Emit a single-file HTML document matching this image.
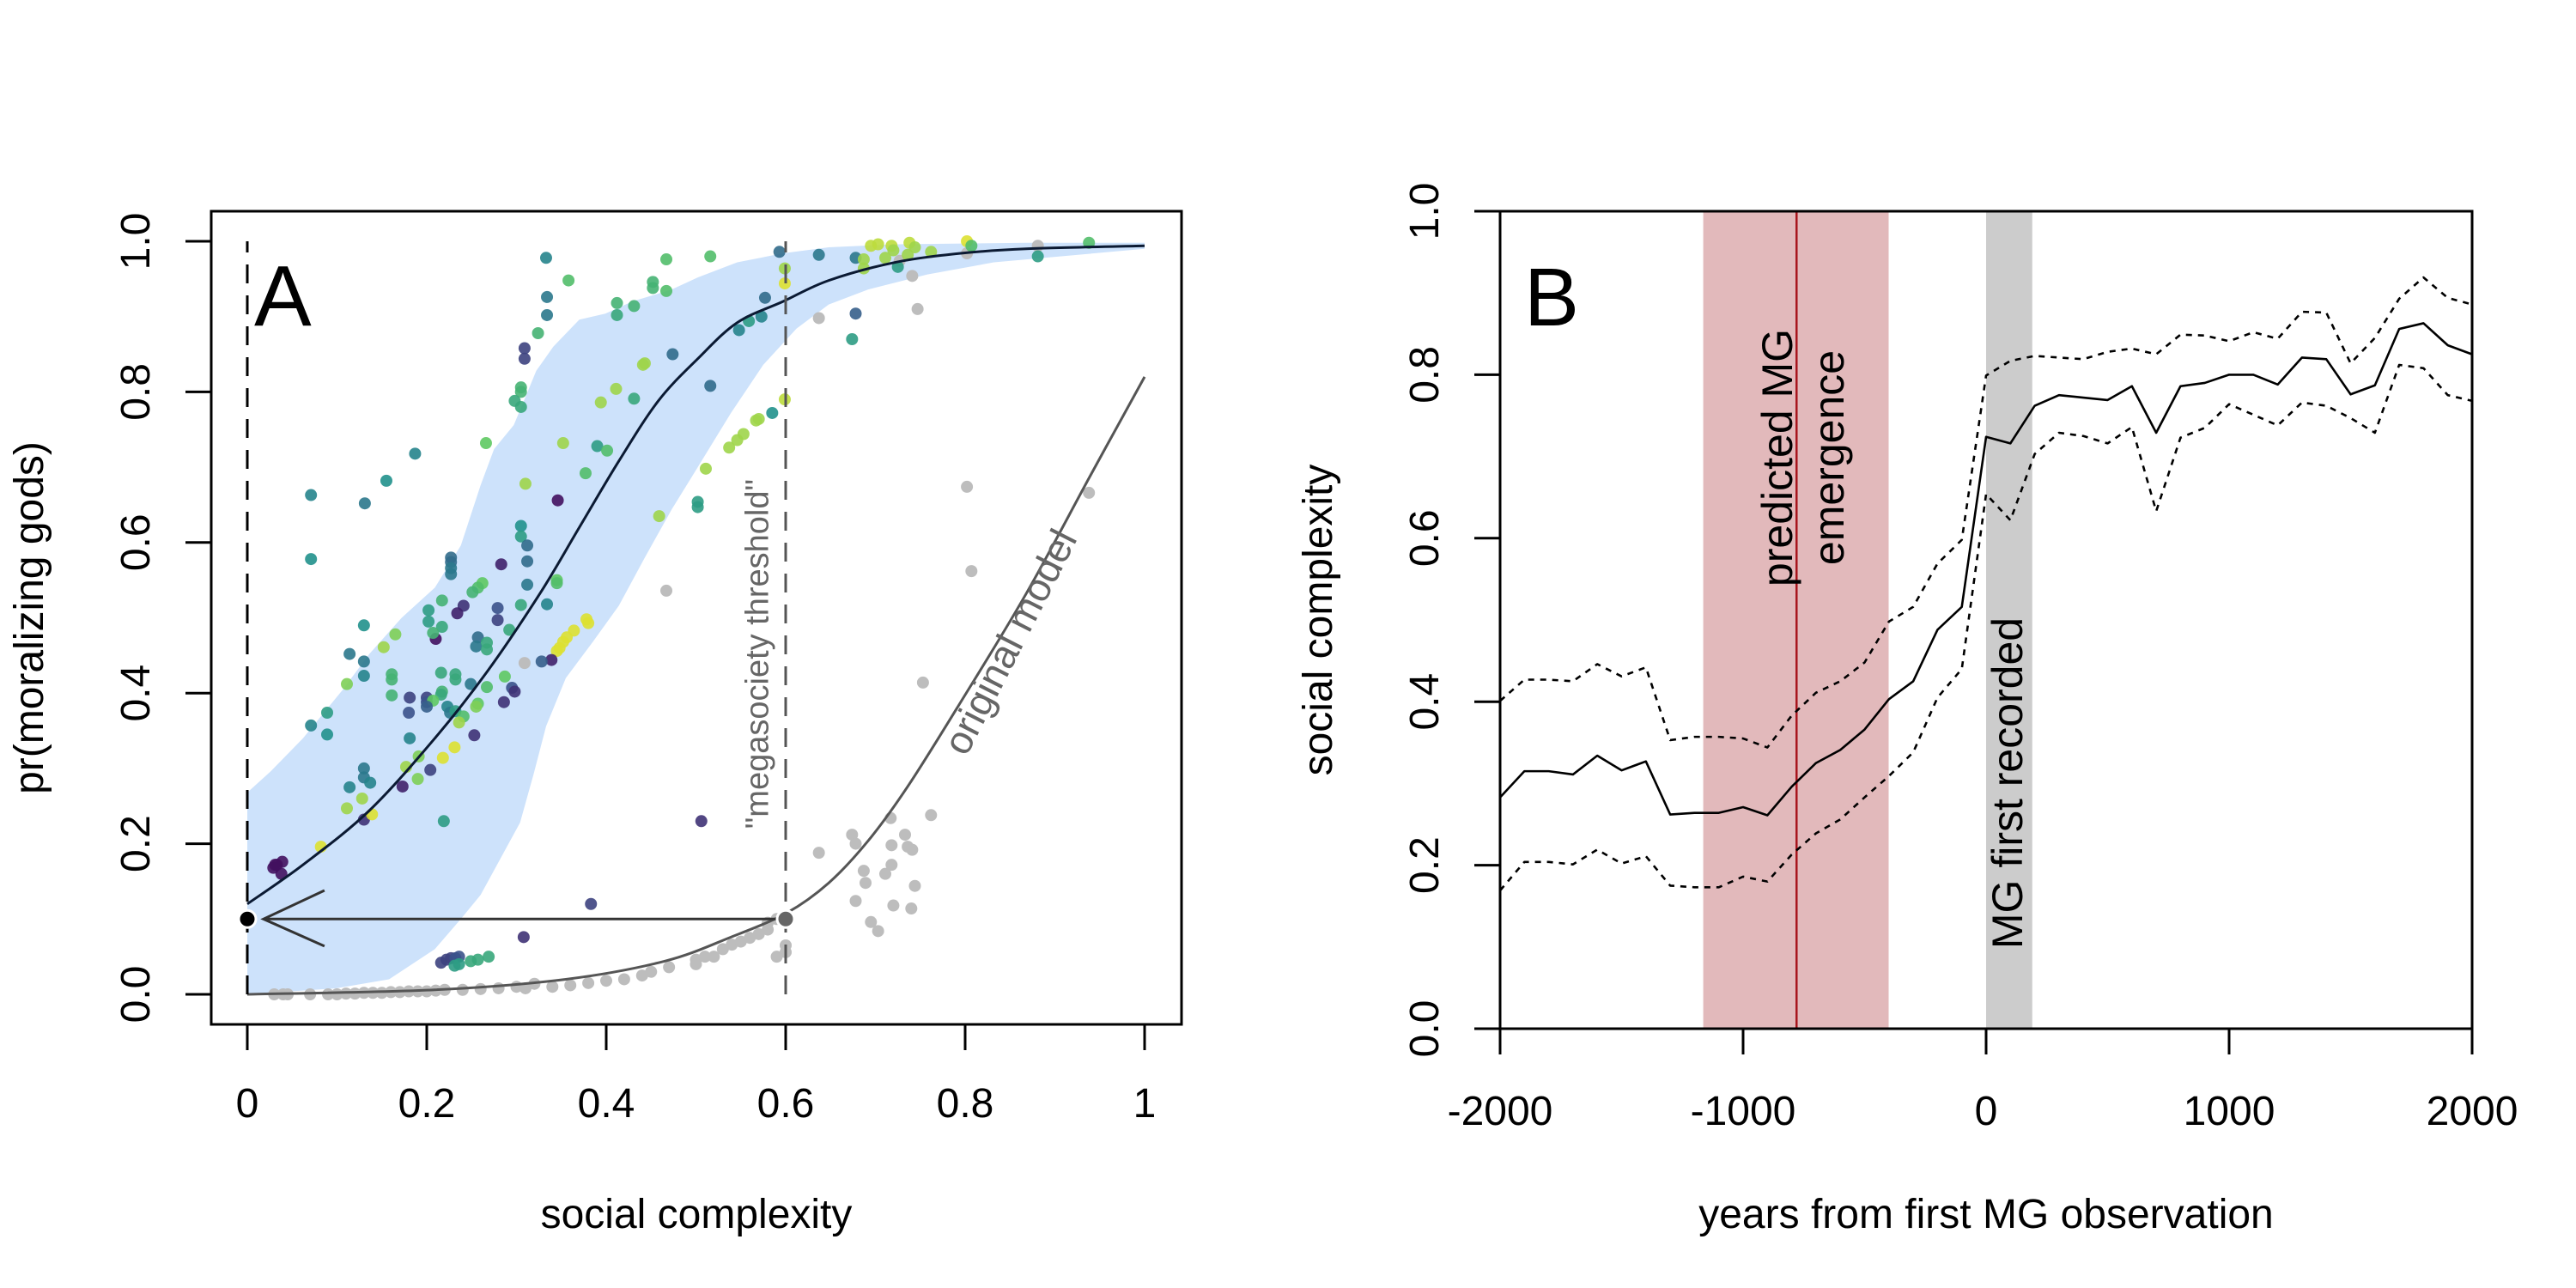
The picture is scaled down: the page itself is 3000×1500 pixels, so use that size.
<!DOCTYPE html>
<html><head><meta charset="utf-8"><style>
html,body{margin:0;padding:0;background:#fff;}
svg{display:block;font-family:"Liberation Sans",Arial,sans-serif;}
</style></head><body>
<svg id="chart" width="3000" height="1500" viewBox="0 0 3000 1500" xmlns="http://www.w3.org/2000/svg">
<rect width="3000" height="1500" fill="#fff"/>
<g id="pa"></g>
<g id="pb"></g>
</svg>
<script>
// ---------- Panel A data ----------
const aXTicks=[0,0.2,0.4,0.6,0.8,1];
const aXTickLabels=["0","0.2","0.4","0.6","0.8","1"];
const aYTicks=[0,0.2,0.4,0.6,0.8,1];
const aYTickLabels=["0.0","0.2","0.4","0.6","0.8","1.0"];
const bandUpperX=[0,0.026,0.062,0.106,0.136,0.172,0.209,0.238,0.26,0.275,0.297,0.311,0.322,0.341,0.37,0.399,0.429,0.473,0.502,0.546,0.597,0.648,0.722,0.868,1];
const bandUpperY=[0.268,0.296,0.34,0.404,0.452,0.5,0.54,0.596,0.676,0.724,0.756,0.796,0.828,0.86,0.896,0.904,0.92,0.936,0.952,0.972,0.984,0.992,0.996,0.998,0.998];
const bandLowerX=[0,0.099,0.158,0.209,0.238,0.26,0.282,0.304,0.319,0.333,0.355,0.385,0.414,0.443,0.473,0.502,0.539,0.575,0.612,0.648,0.692,0.758,0.832,1];
const bandLowerY=[0,0.008,0.02,0.06,0.1,0.132,0.18,0.228,0.292,0.356,0.42,0.468,0.516,0.58,0.644,0.7,0.772,0.836,0.884,0.916,0.936,0.956,0.972,0.99];
const fitX=[0,0.062,0.136,0.209,0.267,0.326,0.37,0.414,0.458,0.502,0.546,0.597,0.648,0.722,0.795,0.868,1];
const fitY=[0.12,0.172,0.244,0.34,0.428,0.532,0.62,0.708,0.788,0.844,0.892,0.92,0.948,0.972,0.984,0.99,0.994];
const origX=[0,0.209,0.355,0.465,0.539,0.601,0.648,0.692,0.736,0.795,0.868,0.941,1];
const origY=[0,0.006,0.02,0.044,0.076,0.108,0.148,0.204,0.276,0.388,0.532,0.692,0.82];
// coloured points: [x, y, viridis value]
const colPts=[[0.333,0.978,.45],[0.358,0.948,.7],[0.334,0.926,.4],[0.334,0.902,.4],[0.324,0.878,.65],[0.309,0.858,.2],[0.309,0.844,.2],[0.305,0.806,.65],[0.305,0.8,.65],[0.298,0.788,.6],[0.305,0.78,.6],[0.266,0.732,.75],[0.187,0.718,.45],[0.155,0.682,.5],[0.071,0.663,.45],[0.131,0.652,.4],[0.071,0.578,.5],
[0.467,0.976,.7],[0.516,0.98,.7],[0.593,0.986,.35],[0.599,0.964,.85],[0.599,0.944,.95],[0.637,0.982,.4],[0.452,0.946,.65],[0.452,0.938,.65],[0.467,0.934,.7],[0.412,0.918,.65],[0.412,0.902,.6],[0.431,0.914,.65],[0.577,0.925,.35],[0.573,0.9,.45],[0.559,0.894,.55],[0.548,0.882,.45],[0.474,0.85,.35],[0.443,0.838,.85],[0.441,0.836,.85],[0.516,0.808,.35],[0.411,0.804,.85],[0.394,0.786,.85],[0.431,0.791,.6],[0.352,0.732,.85],[0.39,0.728,.55],[0.401,0.722,.7],[0.31,0.678,.85],[0.377,0.692,.7],[0.346,0.656,.05],
[0.585,0.772,.5],[0.599,0.79,.9],[0.57,0.764,.85],[0.567,0.762,.85],[0.553,0.744,.85],[0.546,0.736,.85],[0.537,0.726,.85],[0.511,0.698,.85],[0.502,0.654,.55],[0.502,0.647,.55],[0.459,0.635,.85],
[0.678,0.978,.4],[0.687,0.976,.85],[0.687,0.964,.85],[0.695,0.994,.9],[0.703,0.996,.9],[0.718,0.994,.9],[0.72,0.988,.85],[0.738,0.998,.9],[0.744,0.992,.85],[0.762,0.986,.85],[0.711,0.978,.85],[0.725,0.966,.55],[0.736,0.982,.85],[0.802,1.0,.95],[0.807,0.994,.7],[0.938,0.998,.7],[0.881,0.98,.55],[0.678,0.904,.3],[0.674,0.87,.55],
[0.305,0.622,.5],[0.305,0.608,.55],[0.312,0.596,.35],[0.227,0.58,.35],[0.227,0.574,.35],[0.227,0.566,.4],[0.227,0.558,.4],[0.283,0.571,.1],[0.312,0.575,.35],[0.345,0.55,.75],[0.345,0.546,.7],[0.312,0.544,.4],[0.262,0.546,.75],[0.257,0.54,.7],[0.251,0.534,.65],[0.334,0.518,.45],[0.305,0.517,.6],[0.241,0.516,.15],[0.217,0.523,.65],[0.234,0.506,.1],[0.279,0.513,.25],[0.202,0.51,.55],[0.202,0.495,.55],[0.279,0.497,.2],
[0.378,0.498,.95],[0.38,0.493,.95],[0.364,0.483,.95],[0.356,0.474,.95],[0.352,0.468,.95],[0.348,0.46,.95],[0.345,0.456,.95],[0.339,0.444,.1],[0.328,0.442,.3],[0.292,0.484,.6],[0.257,0.474,.35],[0.255,0.462,.4],[0.267,0.467,.6],[0.267,0.458,.6],[0.217,0.488,.6],[0.21,0.472,.05],[0.207,0.48,.65],[0.165,0.478,.8],[0.152,0.461,.85],[0.13,0.49,.5],[0.114,0.452,.4],[0.13,0.442,.4],[0.13,0.423,.45],[0.111,0.412,.8],[0.161,0.425,.65],[0.161,0.418,.65],
[0.216,0.427,.6],[0.232,0.425,.6],[0.232,0.418,.6],[0.249,0.412,.4],[0.267,0.408,.7],[0.217,0.402,.65],[0.216,0.398,.6],[0.2,0.394,.2],[0.2,0.388,.25],[0.181,0.394,.2],[0.161,0.397,.65],[0.207,0.39,.75],[0.287,0.422,.75],[0.295,0.407,.25],[0.298,0.402,.15],[0.286,0.388,.15],[0.257,0.386,.75],[0.255,0.382,.8],[0.223,0.382,.45],[0.226,0.374,.4],[0.232,0.376,.55],[0.241,0.369,.7],[0.236,0.361,.85],[0.18,0.374,.25],[0.2,0.382,.3],
[0.181,0.34,.45],[0.253,0.344,.15],[0.231,0.328,.95],[0.191,0.316,.8],[0.218,0.314,.95],[0.177,0.302,.85],[0.204,0.298,.2],[0.19,0.286,.8],[0.173,0.276,.1],[0.13,0.3,.4],[0.13,0.288,.4],[0.137,0.281,.45],[0.114,0.275,.45],[0.128,0.26,.85],[0.111,0.247,.85],[0.13,0.232,.15],[0.139,0.239,.95],[0.219,0.23,.55],[0.082,0.196,.95],[0.071,0.357,.45],[0.089,0.374,.55],[0.089,0.345,.5],
[0.033,0.172,.05],[0.039,0.176,.05],[0.029,0.168,.05],[0.038,0.16,.05],[0.031,0.172,.05],[0.506,0.23,.15],[0.383,0.12,.2],[0.308,0.076,.15],
[0.216,0.042,.2],[0.222,0.046,.2],[0.227,0.048,.2],[0.232,0.048,.25],[0.236,0.05,.25],[0.231,0.038,.55],[0.236,0.04,.55],[0.249,0.044,.6],[0.257,0.046,.6],[0.269,0.05,.6]];
const grayX=[0.03,0.04,0.045,0.07,0.09,0.1,0.11,0.12,0.13,0.14,0.15,0.16,0.17,0.18,0.19,0.2,0.21,0.22,0.24,0.26,0.28,0.3,0.31,0.32,0.34,0.36,0.38,0.4,0.42,0.44,0.45,0.47,0.5,0.5,0.51,0.52,0.53,0.54,0.55,0.56,0.57,0.58,0.58,0.59,0.6,0.59,0.6,
0.637,0.674,0.678,0.687,0.689,0.678,0.695,0.703,0.711,0.718,0.717,0.718,0.733,0.736,0.741,0.744,0.74,0.72,0.762,0.753,0.467,0.802,0.807,0.938,0.309,0.637,0.747,0.741,0.727,0.802,0.881];
const grayY=[0,0,0,0,0,0,0.001,0.001,0.002,0.002,0.002,0.003,0.003,0.004,0.004,0.004,0.005,0.006,0.006,0.007,0.008,0.01,0.008,0.014,0.01,0.012,0.015,0.018,0.02,0.025,0.03,0.036,0.04,0.046,0.05,0.05,0.06,0.066,0.07,0.075,0.08,0.086,0.095,0.1,0.056,0.05,0.065,
0.188,0.212,0.2,0.164,0.148,0.124,0.096,0.084,0.16,0.172,0.234,0.198,0.212,0.196,0.192,0.144,0.114,0.118,0.238,0.414,0.536,0.674,0.562,0.666,0.44,0.898,0.91,0.954,0.974,0.984,0.994];

// ---------- Panel B data ----------
const years=[-2000,-1900,-1800,-1700,-1600,-1500,-1400,-1300,-1200,-1100,-1000,-900,-800,-700,-600,-500,-400,-300,-200,-100,0,100,200,300,400,500,600,700,800,900,1000,1100,1200,1300,1400,1500,1600,1700,1800,1900,2000];
const meanSC=[0.283,0.315,0.315,0.311,0.334,0.316,0.327,0.262,0.264,0.264,0.271,0.261,0.296,0.325,0.341,0.366,0.403,0.425,0.488,0.516,0.724,0.716,0.762,0.775,0.772,0.769,0.786,0.729,0.786,0.79,0.8,0.8,0.788,0.821,0.819,0.776,0.787,0.856,0.863,0.836,0.825];
const upperSC=[0.401,0.427,0.427,0.425,0.446,0.431,0.442,0.353,0.357,0.357,0.355,0.344,0.383,0.411,0.425,0.448,0.498,0.516,0.569,0.598,0.799,0.817,0.823,0.821,0.819,0.828,0.832,0.825,0.849,0.848,0.841,0.852,0.844,0.877,0.876,0.814,0.845,0.893,0.919,0.894,0.886];
const lowerSC=[0.169,0.204,0.204,0.201,0.219,0.202,0.211,0.175,0.173,0.173,0.186,0.18,0.213,0.239,0.256,0.283,0.309,0.338,0.405,0.44,0.654,0.622,0.703,0.729,0.725,0.716,0.736,0.633,0.723,0.735,0.764,0.751,0.738,0.766,0.762,0.747,0.729,0.812,0.808,0.775,0.768];
const bXTicks=[-2000,-1000,0,1000,2000];
const bXTickLabels=["-2000","-1000","0","1000","2000"];
const bYTicks=[0,0.2,0.4,0.6,0.8,1];
const bYTickLabels=["0.0","0.2","0.4","0.6","0.8","1.0"];
const predictedBand=[-1164,-401];
const predictedLine=[-780];
const recordedBand=[0,190];

const NS="http://www.w3.org/2000/svg";
function mk(parent,tag,attrs,text){const e=document.createElementNS(NS,tag);for(const k in attrs)e.setAttribute(k,attrs[k]);if(text!==undefined)e.textContent=text;parent.appendChild(e);return e;}
const vir=[[68,1,84],[59,82,139],[33,145,140],[94,201,98],[253,231,37]];
function viridis(t){t=Math.max(0,Math.min(1,t))*4;const i=Math.min(3,Math.floor(t)),f=t-i;const a=vir[i],b=vir[i+1];return `rgb(${a.map((v,k)=>Math.round(v+(b[k]-v)*f)).join(',')})`;}
function smooth(pts){let s="M"+pts[0][0]+","+pts[0][1];for(let i=0;i<pts.length-1;i++){const p0=pts[Math.max(0,i-1)],p1=pts[i],p2=pts[i+1],p3=pts[Math.min(pts.length-1,i+2)];
const c1=[p1[0]+(p2[0]-p0[0])/6,p1[1]+(p2[1]-p0[1])/6],c2=[p2[0]-(p3[0]-p1[0])/6,p2[1]-(p3[1]-p1[1])/6];
s+=`C${c1[0]},${c1[1]} ${c2[0]},${c2[1]} ${p2[0]},${p2[1]}`;}return s;}

// ---------- Panel A ----------
const pa=document.getElementById('pa');
const ax=v=>288+v*1045, ay=v=>1158-v*877;
let d="M"+bandUpperX.map((x,i)=>ax(x)+","+ay(bandUpperY[i])).join("L");
for(let i=bandLowerX.length-1;i>=0;i--) d+="L"+ax(bandLowerX[i])+","+ay(bandLowerY[i]);
let e=mk(pa,'path',{d:d+"Z",fill:"#cde2fb"});


grayX.forEach((x,i)=>{const c=mk(pa,'circle',{cx:ax(x),cy:ay(grayY[i]),r:7,fill:"#bdbdbd"});

});
colPts.forEach(p=>{const c=mk(pa,'circle',{cx:ax(p[0]),cy:ay(p[1]),r:7,fill:viridis(p[2]),'fill-opacity':0.9});

});
e=mk(pa,'path',{d:smooth(fitX.map((x,i)=>[ax(x),ay(fitY[i])])),fill:"none",stroke:"#0b1a33","stroke-width":3});


e=mk(pa,'path',{d:smooth(origX.map((x,i)=>[ax(x),ay(origY[i])])),fill:"none",stroke:"#555","stroke-width":3});


e=mk(pa,'line',{x1:ax(0),x2:ax(0),y1:ay(0),y2:ay(1),stroke:"#000","stroke-width":3,"stroke-dasharray":"22,14"});


e=mk(pa,'line',{x1:ax(0.6),x2:ax(0.6),y1:ay(0),y2:ay(1),stroke:"#555","stroke-width":3,"stroke-dasharray":"22,14"});


e=mk(pa,'path',{d:`M${ax(0.6)},${ay(0.1)}L${ax(0.018)},${ay(0.1)}M${ax(0.086)},${ay(0.138)}L${ax(0.018)},${ay(0.1)}L${ax(0.086)},${ay(0.064)}`,fill:"none",stroke:"#333","stroke-width":3});


e=mk(pa,'circle',{cx:ax(0),cy:ay(0.1),r:10,fill:"#000",stroke:"#fff","stroke-width":3});


e=mk(pa,'circle',{cx:ax(0.6),cy:ay(0.1),r:10,fill:"#666",stroke:"#fff","stroke-width":3});


e=mk(pa,'text',{x:0,y:0,transform:`translate(${ax(0.568)+13},${ay(0.452)}) rotate(-90)`,"font-size":38,fill:"#666","text-anchor":"middle"},'"megasociety threshold"');


e=mk(pa,'text',{x:0,y:0,transform:`translate(${ax(0.85)+14},${ay(0.46)}) rotate(-63)`,"font-size":46,fill:"#666","text-anchor":"middle"},'original model');


e=mk(pa,'text',{x:296,y:379,"font-size":100},'A');


e=mk(pa,'rect',{x:246,y:246,width:1130,height:947,fill:"none",stroke:"#000","stroke-width":3});


aXTicks.forEach((t,i)=>{mk(pa,'line',{x1:ax(t),x2:ax(t),y1:1193,y2:1223,stroke:"#000","stroke-width":3});
const tx=mk(pa,'text',{x:ax(t),y:1301,"font-size":48,"text-anchor":"middle"},aXTickLabels[i]);

});
aYTicks.forEach((t,i)=>{mk(pa,'line',{x1:216,x2:246,y1:ay(t),y2:ay(t),stroke:"#000","stroke-width":3});
const tx=mk(pa,'text',{x:0,y:0,transform:`translate(${174},${ay(t)}) rotate(-90)`,"font-size":48,"text-anchor":"middle"},aYTickLabels[i]);

});
e=mk(pa,'text',{x:811,y:1430,"font-size":48,"text-anchor":"middle"},'social complexity');


e=mk(pa,'text',{x:0,y:0,transform:`translate(50,${ay(0.5)}) rotate(-90)`,"font-size":48,"text-anchor":"middle"},'pr(moralizing gods)');



// ---------- Panel B ----------
const pb=document.getElementById('pb');
const bx=v=>1747+(v+2000)/4000*1132, by=v=>1198-v*952;
e=mk(pb,'rect',{x:bx(predictedBand[0]),y:by(1),width:bx(predictedBand[1])-bx(predictedBand[0]),height:by(0)-by(1),fill:"#e2b9bb"});


e=mk(pb,'rect',{x:bx(recordedBand[0]),y:by(1),width:bx(recordedBand[1])-bx(recordedBand[0]),height:by(0)-by(1),fill:"#cccccc"});


e=mk(pb,'line',{x1:bx(predictedLine[0]),x2:bx(predictedLine[0]),y1:by(0),y2:by(1),stroke:"#a8141c","stroke-width":2.5});


function series(arr,name,dash){const p=mk(pb,'path',{d:"M"+years.map((y,i)=>bx(y)+","+by(arr[i])).join("L"),fill:"none",stroke:"#000","stroke-width":2.6,"stroke-linejoin":"round","stroke-dasharray":dash});

}
series(upperSC,'upper-interval-line',"7,7");
series(lowerSC,'lower-interval-line',"7,7");
series(meanSC,'mean-line',"none");
e=mk(pb,'text',{x:0,y:0,transform:`translate(2087,533) rotate(-90)`,"font-size":50,"text-anchor":"middle"},'predicted MG');


e=mk(pb,'text',{x:0,y:0,transform:`translate(2147,533) rotate(-90)`,"font-size":50,"text-anchor":"middle"},'emergence');


e=mk(pb,'text',{x:0,y:0,transform:`translate(2355,912) rotate(-90)`,"font-size":50,"text-anchor":"middle"},'MG first recorded');


e=mk(pb,'text',{x:1775,y:379,"font-size":96},'B');


e=mk(pb,'path',{d:`M1747,246L2879,246L2879,1198M1747,246L1747,1198L2879,1198`,fill:"none",stroke:"#000","stroke-width":3});


bXTicks.forEach((t,i)=>{mk(pb,'line',{x1:bx(t),x2:bx(t),y1:1198,y2:1228,stroke:"#000","stroke-width":3});
const tx=mk(pb,'text',{x:bx(t),y:1310,"font-size":48,"text-anchor":"middle"},bXTickLabels[i]);

});
bYTicks.forEach((t,i)=>{mk(pb,'line',{x1:1717,x2:1747,y1:by(t),y2:by(t),stroke:"#000","stroke-width":3});
const tx=mk(pb,'text',{x:0,y:0,transform:`translate(${1675},${by(t)}) rotate(-90)`,"font-size":48,"text-anchor":"middle"},bYTickLabels[i]);

});
e=mk(pb,'text',{x:2313,y:1430,"font-size":48,"text-anchor":"middle"},'years from first MG observation');


e=mk(pb,'text',{x:0,y:0,transform:`translate(1551,${by(0.5)}) rotate(-90)`,"font-size":48,"text-anchor":"middle"},'social complexity');


</script>
</body></html>
